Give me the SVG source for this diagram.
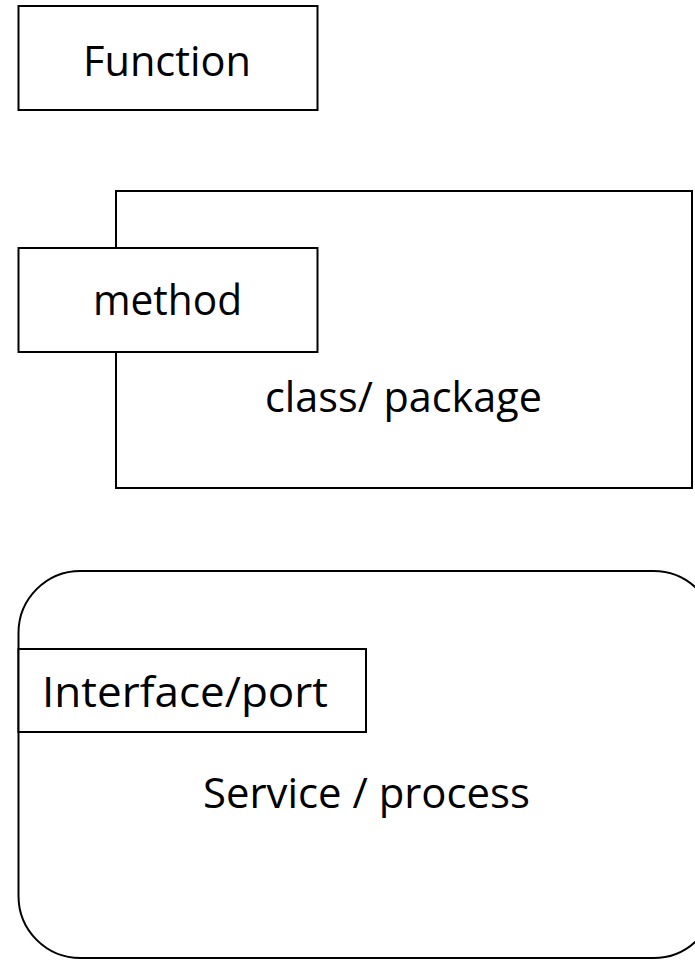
<svg xmlns="http://www.w3.org/2000/svg" width="695" height="960" viewBox="0 0 695 960">
<style>
.box{fill:#fff;stroke:#000;stroke-width:2}
.lbl{font-family:"Open Sans","Liberation Sans",sans-serif;font-size:42px;fill:#000}
</style>
<rect width="695" height="960" fill="#fff"/>
<g id="function">
<rect class="box" x="18.5" y="6" width="299" height="104"/>
<text class="lbl" x="83" y="76" textLength="168" lengthAdjust="spacingAndGlyphs">Function</text>
</g>
<g id="class-package">
<rect class="box" x="116" y="191" width="576" height="297"/>
<text class="lbl" x="265" y="412" textLength="277" lengthAdjust="spacingAndGlyphs">class/ package</text>
</g>
<g id="method">
<rect class="box" x="18.5" y="248" width="299" height="104"/>
<text class="lbl" x="93" y="315" textLength="149" lengthAdjust="spacingAndGlyphs">method</text>
</g>
<g id="service-process">
<rect class="box" x="18.5" y="571" width="697" height="387" rx="62" ry="62"/>
<text class="lbl" x="203" y="808" textLength="327" lengthAdjust="spacingAndGlyphs">Service / process</text>
</g>
<g id="interface-port">
<rect class="box" x="18.5" y="649" width="347.5" height="83"/>
<text class="lbl" x="42" y="707" textLength="286" lengthAdjust="spacingAndGlyphs">Interface/port</text>
</g>
<g id="connectors"></g>
</svg>
